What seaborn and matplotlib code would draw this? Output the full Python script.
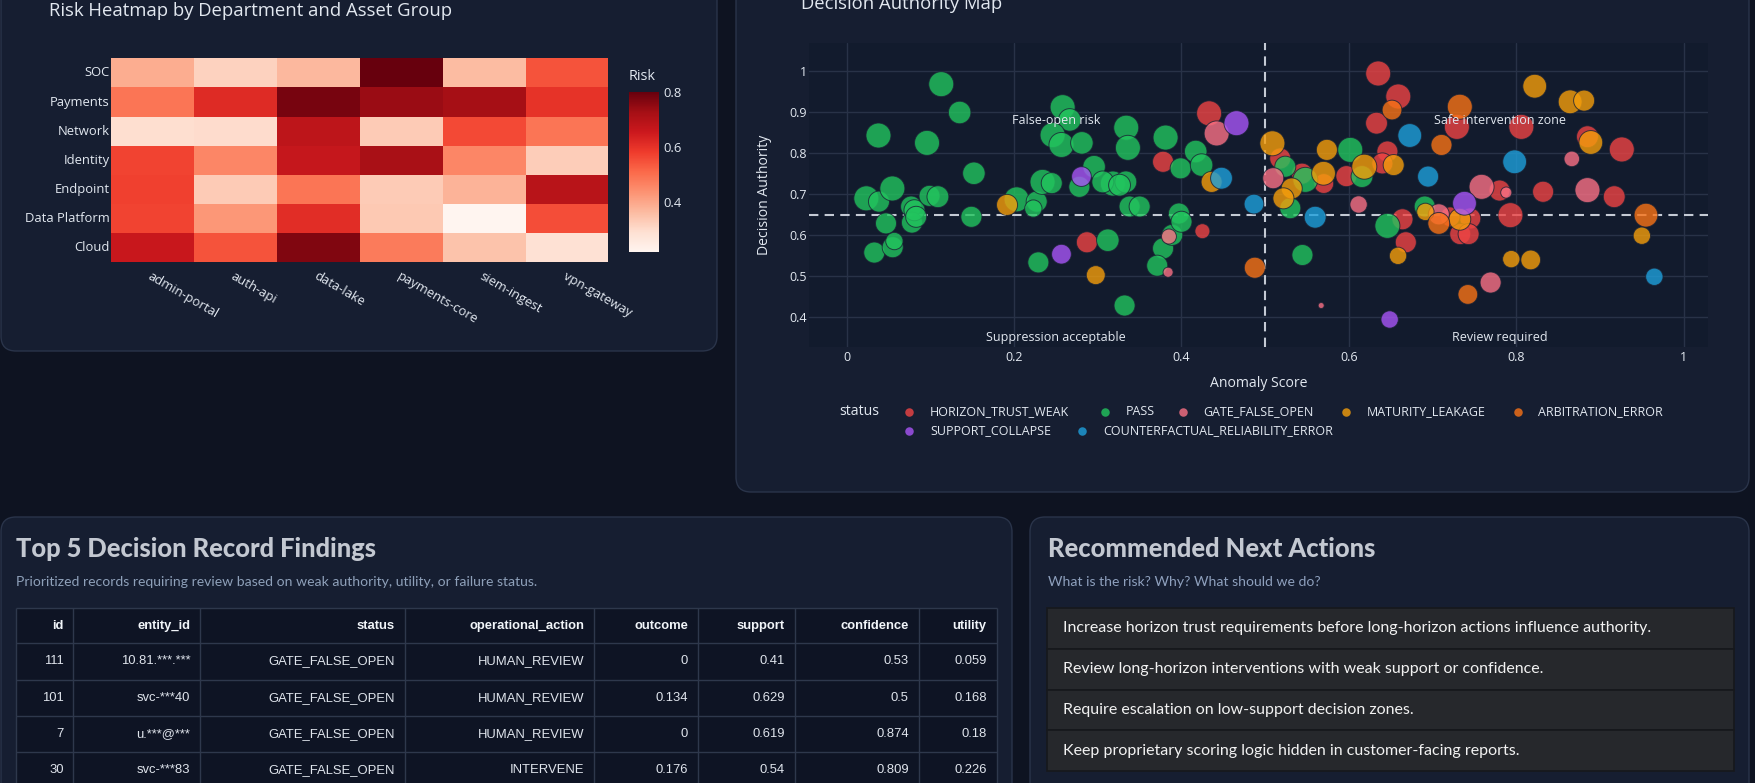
import numpy as np
import pandas as pd
import seaborn as sns
import matplotlib.pyplot as plt
from matplotlib.patches import FancyBboxPatch, Rectangle

W, H = 1756, 783
PT = 0.72  # points per pixel at dpi=100

# ---- heatmap data ----
departments = ["SOC", "Payments", "Network", "Identity", "Endpoint", "Data Platform", "Cloud"]
asset_groups = ["admin-portal", "auth-api", "data-lake", "payments-core", "siem-ingest", "vpn-gateway"]
risk_soc = [0.39, 0.32, 0.37, 0.80, 0.365, 0.545]
risk_payments = [0.49, 0.615, 0.78, 0.74, 0.725, 0.60]
risk_network = [0.295, 0.30, 0.68, 0.335, 0.56, 0.49]
risk_identity = [0.57, 0.46, 0.665, 0.72, 0.46, 0.33]
risk_endpoint = [0.575, 0.335, 0.49, 0.335, 0.38, 0.69]
risk_data_platform = [0.57, 0.43, 0.61, 0.34, 0.22, 0.555]
risk_cloud = [0.66, 0.545, 0.77, 0.48, 0.35, 0.29]

# ---- scatter data (anomaly score, decision authority, impact) ----
status_order = ["HORIZON_TRUST_WEAK", "PASS", "GATE_FALSE_OPEN", "MATURITY_LEAKAGE",
                "ARBITRATION_ERROR", "SUPPORT_COLLAPSE", "COUNTERFACTUAL_RELIABILITY_ERROR"]

horizon_x = [0.378, 0.433, 0.425, 0.287, 0.518, 0.635, 0.659, 0.633, 0.646, 0.640, 0.597, 0.570, 0.544,
             0.664, 0.668, 0.729, 0.745, 0.733, 0.743, 0.780, 0.793, 0.806, 0.832, 0.885, 0.926, 0.917, 0.721]
horizon_y = [0.779, 0.897, 0.610, 0.583, 0.787, 0.994, 0.938, 0.873, 0.804, 0.775, 0.744, 0.726, 0.750,
             0.639, 0.583, 0.864, 0.641, 0.603, 0.603, 0.709, 0.649, 0.864, 0.706, 0.840, 0.809, 0.694, 0.645]
horizon_w = [0.69, 1.0, 0.32, 0.69, 0.69, 1.0, 1.0, 0.75, 0.69, 0.69, 0.69, 0.6, 0.69,
             0.69, 0.69, 1.0, 0.69, 0.69, 0.69, 0.69, 1.0, 1.0, 0.69, 0.75, 1.0, 0.75, 0.6]

pass_x = [0.0235, 0.038, 0.0386, 0.0546, 0.047, 0.033, 0.055, 0.057, 0.077, 0.078, 0.081, 0.083, 0.096,
          0.099, 0.109, 0.113, 0.135, 0.152, 0.149, 0.203, 0.227, 0.223, 0.229, 0.234, 0.245, 0.258,
          0.2665, 0.246, 0.2566, 0.281, 0.278, 0.2956, 0.312, 0.318, 0.306, 0.3335, 0.326, 0.334, 0.336,
          0.338, 0.350, 0.332, 0.381, 0.378, 0.371, 0.389, 0.397, 0.400, 0.399, 0.417, 0.424, 0.524,
          0.530, 0.548, 0.5445, 0.6016, 0.6156, 0.646, 0.6906]
pass_y = [0.690, 0.843, 0.682, 0.714, 0.629, 0.558, 0.571, 0.586, 0.670, 0.631, 0.661, 0.645, 0.825,
          0.696, 0.694, 0.968, 0.899, 0.751, 0.645, 0.6875, 0.682, 0.665, 0.534, 0.730, 0.727, 0.912,
          0.881, 0.844, 0.820, 0.825, 0.718, 0.767, 0.588, 0.726, 0.730, 0.730, 0.722, 0.862, 0.813,
          0.670, 0.670, 0.429, 0.838, 0.568, 0.526, 0.601, 0.653, 0.633, 0.763, 0.804, 0.771, 0.767,
          0.666, 0.735, 0.552, 0.808, 0.743, 0.623, 0.670]
pass_w = [1.0, 1.0, 0.69, 1.0, 0.69, 0.69, 0.69, 0.45, 0.69, 0.69, 0.69, 0.69, 1.0,
          0.69, 0.75, 1.0, 0.8, 0.8, 0.69, 1.0, 0.69, 0.45, 0.69, 1.0, 0.69, 1.0,
          0.8, 1.0, 1.0, 0.8, 0.69, 0.8, 0.8, 1.0, 0.75, 0.75, 0.75, 1.0, 1.0,
          0.69, 0.69, 0.69, 1.0, 0.69, 0.69, 0.69, 0.69, 0.69, 0.69, 0.8, 0.8, 0.69,
          0.69, 1.0, 0.69, 1.0, 0.75, 1.0, 0.69]

gate_x = [0.442, 0.385, 0.384, 0.5096, 0.5669, 0.6116, 0.7074, 0.7585, 0.788, 0.7693, 0.8663, 0.885]
gate_y = [0.848, 0.597, 0.510, 0.739, 0.429, 0.675, 0.651, 0.718, 0.704, 0.485, 0.786, 0.710]
gate_w = [1.0, 0.32, 0.11, 0.69, 0.0, 0.45, 0.69, 1.0, 0.15, 0.69, 0.35, 1.0]

maturity_x = [0.1916, 0.2976, 0.436, 0.5086, 0.5737, 0.5697, 0.5317, 0.5218, 0.6184, 0.6535, 0.6587,
              0.6914, 0.7325, 0.794, 0.8172, 0.822, 0.8643, 0.881, 0.889, 0.950]
maturity_y = [0.674, 0.503, 0.730, 0.824, 0.808, 0.751, 0.714, 0.690, 0.767, 0.771, 0.550,
              0.657, 0.639, 0.542, 0.540, 0.963, 0.925, 0.928, 0.826, 0.599]
maturity_w = [0.69, 0.55, 0.69, 1.0, 0.69, 0.9, 0.69, 0.69, 1.0, 0.69, 0.45,
              0.45, 0.75, 0.45, 0.6, 0.9, 0.9, 0.69, 0.9, 0.45]

arbitration_x = [0.4876, 0.6515, 0.7325, 0.7106, 0.7074, 0.7421, 0.9549]
arbitration_y = [0.521, 0.905, 0.913, 0.820, 0.629, 0.456, 0.649]
arbitration_w = [0.69, 0.6, 1.0, 0.69, 0.75, 0.6, 0.9]

support_x = [0.2805, 0.2566, 0.4657, 0.7381, 0.6487]
support_y = [0.743, 0.554, 0.873, 0.678, 0.395]
support_w = [0.6, 0.6, 1.0, 0.9, 0.45]

counterfactual_x = [0.4478, 0.4866, 0.5597, 0.6727, 0.6946, 0.798, 0.9649]
counterfactual_y = [0.739, 0.676, 0.644, 0.843, 0.743, 0.779, 0.499]
counterfactual_w = [0.75, 0.6, 0.75, 0.9, 0.69, 0.9, 0.45]

zone_labels = ["False-open risk", "Safe intervention zone", "Suppression acceptable", "Review required"]
zone_x = [0.25, 0.78, 0.25, 0.78]
zone_y = [0.88, 0.88, 0.35, 0.35]

# ---- table data ----
tbl_columns = ["id", "entity_id", "status", "operational_action", "outcome", "support", "confidence", "utility"]
tbl_id = ["111", "101", "7", "30"]
tbl_entity = ["10.81.***.***", "svc-***40", "u.***@***", "svc-***83"]
tbl_status = ["GATE_FALSE_OPEN"] * 4
tbl_action = ["HUMAN_REVIEW", "HUMAN_REVIEW", "HUMAN_REVIEW", "INTERVENE"]
tbl_outcome = ["0", "0.134", "0", "0.176"]
tbl_support = ["0.41", "0.629", "0.619", "0.54"]
tbl_confidence = ["0.53", "0.5", "0.874", "0.809"]
tbl_utility = ["0.059", "0.168", "0.18", "0.226"]

actions = [
    "Increase horizon trust requirements before long-horizon actions influence authority.",
    "Review long-horizon interventions with weak support or confidence.",
    "Require escalation on low-support decision zones.",
    "Keep proprietary scoring logic hidden in customer-facing reports.",
]

# ---- styling ----
PAGE_BG = "#0e1321"
PANEL_BG = "#161e31"
PANEL_EDGE = "#2a344a"
PLOT_BG = "#121b2d"
GRID = "#283247"
TXT = "#e2e8f0"
status_colors = {
    "HORIZON_TRUST_WEAK": "#ef4444",
    "PASS": "#22c55e",
    "GATE_FALSE_OPEN": "#fb7185",
    "MATURITY_LEAKAGE": "#f59e0b",
    "ARBITRATION_ERROR": "#f97316",
    "SUPPORT_COLLAPSE": "#a855f7",
    "COUNTERFACTUAL_RELIABILITY_ERROR": "#1ea0dc",
}

sns.set_theme(style="dark")
plt.rcParams["font.family"] = ["Open Sans", "DejaVu Sans"]


def frac(x0, y0, x1, y1):
    return [x0 / W, 1 - y1 / H, (x1 - x0) / W, (y1 - y0) / H]


fig = plt.figure(figsize=(W / 100, H / 100), dpi=100, facecolor=PAGE_BG)
bg = fig.add_axes([0, 0, 1, 1], zorder=0)
bg.set_xlim(0, W)
bg.set_ylim(H, 0)
bg.axis("off")

# panels
for x0, y0, x1, y1 in [(1, -30, 717, 351), (736, -30, 1749, 492), (1, 517, 1012, 820), (1030, 517, 1749, 820)]:
    bg.add_patch(FancyBboxPatch((x0, y0), x1 - x0, y1 - y0, boxstyle="round,pad=0,rounding_size=15",
                                fc=PANEL_BG, ec=PANEL_EDGE, lw=1))

# ---- heatmap ----
risk = pd.DataFrame([risk_soc, risk_payments, risk_network, risk_identity, risk_endpoint,
                     risk_data_platform, risk_cloud], index=departments, columns=asset_groups)
hm = fig.add_axes(frac(110.8, 58.3, 608.5, 262.3))
cax = fig.add_axes(frac(628.5, 91.7, 658.8, 252.3))
sns.heatmap(risk, cmap="Reds", vmin=0.22, vmax=0.80, ax=hm, cbar_ax=cax,
            cbar_kws={"ticks": [0.4, 0.6, 0.8]})
hm.set_xlabel("")
hm.set_ylabel("")
hm.tick_params(axis="both", length=0, colors=TXT, labelsize=13 * PT)
hm.tick_params(axis="y", pad=1)
hm.tick_params(axis="x", pad=5)
plt.setp(hm.get_yticklabels(), rotation=0)
plt.setp(hm.get_xticklabels(), rotation=-30, ha="left", va="top", rotation_mode="anchor")
cbar = hm.collections[0].colorbar
cbar.outline.set_visible(False)
cax.tick_params(length=0, colors=TXT, labelsize=13 * PT, pad=3)
cax.set_yticklabels(["0.4", "0.6", "0.8"])
bg.text(628.5, 77, "Risk", ha="left", va="center", color=TXT, fontsize=14.5 * PT)
bg.text(49, 10.5, "Risk Heatmap by Department and Asset Group", ha="left", va="center",
        color=TXT, fontsize=18.5 * PT)

# ---- scatter ----
frames = []
for st, xs, ys, ws in [
    ("HORIZON_TRUST_WEAK", horizon_x, horizon_y, horizon_w),
    ("PASS", pass_x, pass_y, pass_w),
    ("GATE_FALSE_OPEN", gate_x, gate_y, gate_w),
    ("MATURITY_LEAKAGE", maturity_x, maturity_y, maturity_w),
    ("ARBITRATION_ERROR", arbitration_x, arbitration_y, arbitration_w),
    ("SUPPORT_COLLAPSE", support_x, support_y, support_w),
    ("COUNTERFACTUAL_RELIABILITY_ERROR", counterfactual_x, counterfactual_y, counterfactual_w),
]:
    frames.append(pd.DataFrame({"anomaly": xs, "authority": ys, "impact": ws, "status": st}))
pts = pd.concat(frames, ignore_index=True)

sc = fig.add_axes(frac(809, 43.3, 1708, 347))
sc.set_facecolor(PLOT_BG)
sns.scatterplot(data=pts, x="anomaly", y="authority", hue="status", hue_order=status_order,
                palette=status_colors, size="impact", size_norm=(0, 1),
                sizes=((6 * PT) ** 2, (25 * PT) ** 2), alpha=0.8, edgecolor="#1a2234",
                linewidth=0.7, legend=False, ax=sc, zorder=3)
sc.set_xlim(-0.045, 1.029)
sc.set_ylim(0.328, 1.0675)
sc.set_xticks(np.arange(0, 1.01, 0.2))
sc.set_yticks(np.arange(0.4, 1.01, 0.1))
sc.set_xticklabels([f"{v:g}" for v in np.round(np.arange(0, 1.01, 0.2), 1)])
sc.set_yticklabels([f"{v:g}" for v in np.round(np.arange(0.4, 1.01, 0.1), 1)])
sc.grid(True, color=GRID, lw=1)
sc.tick_params(length=0, colors=TXT, labelsize=12.5 * PT)
sc.tick_params(axis="y", pad=1.5)
sc.tick_params(axis="x", pad=3)
for sp in sc.spines.values():
    sp.set_visible(False)
sc.axhline(0.65, color="#c4cad4", lw=1.5, ls=(0, (4.5, 3)), zorder=2)
sc.axvline(0.5, color="#c4cad4", lw=1.5, ls=(0, (4.5, 3)), zorder=2)
for lab, zx, zy in zip(zone_labels, zone_x, zone_y):
    sc.text(zx, zy, lab, ha="center", va="center", color=TXT, fontsize=12.5 * PT, zorder=4)
sc.set_xlabel("Anomaly Score", color=TXT, fontsize=14 * PT)
sc.set_ylabel("Decision Authority", color=TXT, fontsize=14 * PT)
sc.xaxis.set_label_coords(0.5, -(383 - 347) / 303.7)
sc.xaxis.label.set_va("center")
sc.yaxis.set_label_coords(-(809 - 765) / 899, 0.5)
sc.yaxis.label.set_va("center")
bg.text(800.7, 4, "Decision Authority Map", ha="left", va="center", color=TXT, fontsize=18.5 * PT)

# legend (plotly-style horizontal)
bg.text(839, 411.7, "status", ha="left", va="center", color=TXT, fontsize=14 * PT)
leg_pos = [(909.4, 411.7), (1104.8, 411.7), (1183.2, 411.7), (1346.3, 411.7), (1518, 411.7),
           (909.4, 430.7), (1082.4, 430.7)]
for st, (lx, ly) in zip(status_order, leg_pos):
    bg.scatter([lx], [ly], s=(8.5 * PT) ** 2, color=status_colors[st], alpha=0.8, lw=0)
    bg.text(lx + 20.5, ly, st, ha="left", va="center", color=TXT, fontsize=12.5 * PT)

# ---- table panel ----
bg.text(16, 549, "Top 5 Decision Record Findings", ha="left", va="center", color="#c3c8d1",
        fontsize=25.5 * PT, fontweight=900, family=["Lato", "DejaVu Sans"])
bg.text(16, 581.5, "Prioritized records requiring review based on weak authority, utility, or failure status.",
        ha="left", va="center", color="#8ea0b9", fontsize=14 * PT, family=["Lato", "DejaVu Sans"])
col_edges = [16.3, 73.5, 200.4, 404.7, 594, 698.1, 795, 918.7, 996.7]
row_edges = [608.3, 643.3, 679.6, 715.9, 752.2, 788.5]
bg.add_patch(Rectangle((col_edges[0], row_edges[0]), col_edges[-1] - col_edges[0], 200,
                       fc="#0e1424", ec="none"))
bg.hlines(row_edges, col_edges[0], col_edges[-1], color="#2e384c", lw=1)
bg.vlines(col_edges, row_edges[0], 800, color="#2e384c", lw=1)
for j, name in enumerate(tbl_columns):
    bg.text(col_edges[j + 1] - 10, (row_edges[0] + row_edges[1]) / 2, name, ha="right", va="center",
            color="#f1f5f9", fontsize=13 * PT, fontweight="bold", family=["Liberation Sans", "DejaVu Sans"])
rows = list(zip(tbl_id, tbl_entity, tbl_status, tbl_action, tbl_outcome, tbl_support, tbl_confidence, tbl_utility))
for i, row in enumerate(rows):
    cy = (row_edges[i + 1] + row_edges[i + 2]) / 2
    for j, val in enumerate(row):
        bg.text(col_edges[j + 1] - 10, cy, val, ha="right", va="center", color="#dfe4ec",
                fontsize=13 * PT, family=["Liberation Sans", "DejaVu Sans"])

# ---- recommended actions panel ----
bg.text(1048, 549, "Recommended Next Actions", ha="left", va="center", color="#c3c8d1",
        fontsize=25.5 * PT, fontweight=900, family=["Lato", "DejaVu Sans"])
bg.text(1048, 581.5, "What is the risk? Why? What should we do?", ha="left", va="center",
        color="#8ea0bd", fontsize=14 * PT, family=["Lato", "DejaVu Sans"])
box_tops = [607.7, 648.6, 689.5, 730.4]
for top, txt in zip(box_tops, actions):
    bg.add_patch(Rectangle((1046.7, top), 1733.6 - 1046.7, 40.9, fc="#26282c", ec="#16181c", lw=1.2))
    bg.text(1063, top + 20.5, txt, ha="left", va="center", color="#f2f2f2", fontsize=16 * PT,
            family=["Lato", "DejaVu Sans"])

fig.savefig("out.png", dpi=100, facecolor=PAGE_BG)
